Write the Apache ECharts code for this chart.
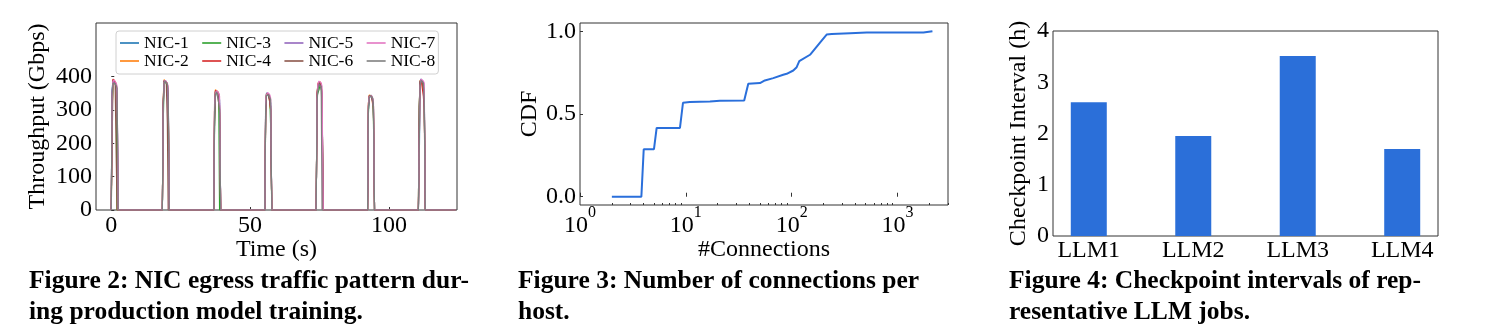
<!DOCTYPE html>
<html>
<head>
<meta charset="utf-8">
<script src="https://cdn.jsdelivr.net/npm/echarts@6/dist/echarts.min.js"></script>
<style>
html,body{margin:0;padding:0;background:#fff;}
#c{width:1485px;height:336px;}
</style>
</head>
<body>
<div id="c"></div>
<script>
// ---------- Figure 2 data: NIC egress throughput (Gbps) over time (s) ----------
const time = [
  0.0, 0.3, 0.6, 1.0, 1.4, 1.8, 2.1, 2.5,
  18.4, 18.7, 19.0, 19.4, 19.8, 20.2, 20.5, 20.9,
  36.9, 37.2, 37.5, 37.9, 38.3, 38.7, 39.0, 39.4,
  55.3, 55.6, 55.9, 56.3, 56.7, 57.1, 57.4, 57.8,
  73.8, 74.1, 74.4, 74.8, 75.2, 75.6, 75.9, 76.3,
  92.3, 92.6, 92.9, 93.3, 93.7, 94.1, 94.4, 94.8,
  110.6, 110.9, 111.2, 111.6, 112.0, 112.4, 112.7, 113.1,
  124.0
];
const nic1 = [0,360,388,386,382,378,340,0, 0,300,386,389,385,380,360,0, 0,280,355,358,352,348,330,0, 0,320,350,352,348,344,320,0, 0,340,370,378,382,365,350,0, 0,300,342,345,343,340,310,0, 0,130,385,392,388,370,360,0, 0];
const nic2 = [0,280,380,390,384,376,0,0, 0,330,390,388,384,378,340,0, 0,300,360,358,354,350,290,0, 0,310,348,350,346,342,300,0, 0,330,380,384,380,374,340,0, 0,320,344,346,342,338,300,0, 0,300,388,390,386,382,340,0, 0];
const nic3 = [0,300,372,386,380,360,0,0, 0,260,370,386,380,372,320,0, 0,250,340,356,352,344,0,0, 0,280,342,348,344,330,250,0, 0,340,350,360,376,370,300,0, 0,290,336,342,340,334,280,0, 0,310,380,388,384,376,330,0, 0];
const nic4 = [0,340,392,388,382,376,330,0, 0,310,384,388,384,378,330,0, 0,320,358,360,355,348,310,0, 0,290,345,350,347,342,300,0, 0,350,376,380,384,378,330,0, 0,310,340,344,341,336,320,0, 0,190,376,390,386,340,300,0, 0];
const nic5 = [0,350,385,382,378,370,350,0, 0,320,388,386,382,376,300,0, 0,300,352,356,350,345,320,0, 0,300,346,349,345,340,310,0, 0,330,372,380,378,370,345,0, 0,300,338,343,340,336,310,0, 0,300,384,392,388,384,330,0, 0];
const nic6 = [0,0,380,385,378,150,0,0, 0,320,386,389,384,260,0,0, 0,270,354,358,353,346,300,0, 0,300,347,351,346,341,310,0, 0,345,374,382,380,372,340,0, 0,315,342,345,342,337,315,0, 0,310,386,390,385,380,350,0, 0];
const nic7 = [0,320,384,390,386,380,370,0, 0,290,382,388,386,380,370,0, 0,310,350,357,354,350,340,0, 0,330,344,352,348,345,335,0, 0,330,378,386,384,380,370,0, 0,320,340,344,342,340,330,0, 0,200,370,392,390,386,380,0, 0];
const nic8 = [0,340,380,383,378,372,365,0, 0,300,380,386,383,378,350,0, 0,300,346,354,350,320,300,0, 0,310,343,348,345,340,330,0, 0,320,360,372,376,370,0,0, 0,310,335,342,340,336,320,0, 0,0,370,388,384,380,330,0, 0];
const nicNames = ['NIC-1','NIC-2','NIC-3','NIC-4','NIC-5','NIC-6','NIC-7','NIC-8'];
const nicValues = [nic1,nic2,nic3,nic4,nic5,nic6,nic7,nic8];
const nicColors = ['#1f77b4','#ff7f0e','#2ca02c','#d62728','#9467bd','#8c564b','#e377c2','#7f7f7f'];
const fig2YTicks = [0,100,200,300,400];
const fig2XTicks = [0,50,100];

// ---------- Figure 3 data: CDF of #connections per host ----------
const connections = [2, 3.8, 4, 5, 5.3, 8.8, 9.4, 10.9, 16.9, 21, 35.6, 38.9, 50.2, 55.8, 67, 83.2, 89.7, 103.6, 111.5, 118, 149, 192, 214, 239, 356, 512, 1057, 1758, 2138];
const cdf = [0, 0, 0.287, 0.287, 0.416, 0.416, 0.568, 0.572, 0.576, 0.58, 0.582, 0.683, 0.687, 0.703, 0.717, 0.737, 0.743, 0.763, 0.783, 0.819, 0.858, 0.944, 0.98, 0.984, 0.988, 0.992, 0.992, 0.992, 1.0];
const fig3XMajor = [1, 10, 100, 1000];
const fig3XMinor = [2,3,4,5,6,7,8,9,20,30,40,50,60,70,80,90,200,300,400,500,600,700,800,900,2000,3000];
const fig3YTicks = [0, 0.5, 1.0];

// ---------- Figure 4 data: checkpoint interval (h) ----------
const jobs = ['LLM1','LLM2','LLM3','LLM4'];
const checkpointHours = [2.61, 1.95, 3.51, 1.70];
const fig4YTicks = [0,1,2,3,4];

// ---------- Chart ----------
const FONT = 'Liberation Serif';
const chart = echarts.init(document.getElementById('c'), null, {renderer:'canvas'});
const axisText = {fontFamily: FONT, fontSize: 24, color: '#000'};
const tickStyle = {show:true, inside:true, length:3, lineStyle:{color:'#333', width:1}};
const border = {show:true, borderColor:'#333', borderWidth:1, backgroundColor:'transparent'};
const capStyle = {fontFamily: FONT, fontWeight: 'bold', fontSize: 25.5, lineHeight: 31, color: '#000'};

const series = [];
nicNames.forEach((n, k) => {
  series.push({
    name: n, type: 'line', xAxisIndex: 0, yAxisIndex: 0,
    data: time.map((t, i) => [t, nicValues[k][i]]),
    showSymbol: false, symbol: 'none',
    lineStyle: {width: 1.2, color: nicColors[k]},
    itemStyle: {color: nicColors[k]},
    clip: true, animation: false
  });
});
series.push({
  type: 'line', xAxisIndex: 1, yAxisIndex: 1,
  data: connections.map((c, i) => [c, cdf[i]]),
  showSymbol: false, symbol: 'none',
  lineStyle: {width: 2, color: '#2a6fdb'}, animation: false
});
series.push({
  type: 'bar', xAxisIndex: 3, yAxisIndex: 2,
  data: checkpointHours.map((v, i) => [i, v]),
  barWidth: 36, itemStyle: {color: '#2b6fd9'}, animation: false
});

const legendCommon = {
  orient: 'horizontal', icon: 'rect', itemWidth: 19, itemHeight: 1.6,
  itemGap: 13.5, selectedMode: false,
  textStyle: {fontFamily: FONT, fontSize: 17.5, color: '#000', padding: [0,0,0,0]}
};

const option = {
  animation: false,
  backgroundColor: '#fff',
  title: [
    {text: 'Figure 2: NIC egress traffic pattern dur-\ning production model training.', left: 29, top: 266, padding: 0, textStyle: capStyle},
    {text: 'Figure 3: Number of connections per\nhost.', left: 518, top: 266, padding: 0, textStyle: capStyle},
    {text: 'Figure 4: Checkpoint intervals of rep-\nresentative LLM jobs.', left: 1009, top: 266, padding: 0, textStyle: capStyle}
  ],
  legend: [
    Object.assign({}, legendCommon, {
      data: ['NIC-1','NIC-3','NIC-5','NIC-7'], left: 116, top: 31,
      padding: [3, 3, 22, 4], borderColor: '#d0d0d0', borderWidth: 1, borderRadius: 3,
      backgroundColor: 'rgba(255,255,255,0.8)'
    }),
    Object.assign({}, legendCommon, {
      data: ['NIC-2','NIC-4','NIC-6','NIC-8'], left: 120, top: 52, padding: 0, z: 10
    })
  ],
  grid: [
    Object.assign({left: 96, top: 23, width: 361, height: 187}, border),
    Object.assign({left: 580, top: 23, width: 368, height: 182}, border),
    Object.assign({left: 1053, top: 31, width: 385, height: 205}, border)
  ],
  xAxis: [
    {type: 'value', gridIndex: 0, min: -5.5, max: 124.5, position: 'bottom',
     name: 'Time (s)', nameLocation: 'middle', nameGap: 28, nameMoveOverlap: false, nameTextStyle: axisText,
     axisLine: {show: false}, splitLine: {show: false},
     axisTick: Object.assign({}, tickStyle, {customValues: fig2XTicks}),
     axisLabel: Object.assign({}, axisText, {customValues: fig2XTicks, margin: 4})},
    {type: 'log', logBase: 10, gridIndex: 1, min: 1, max: 3000, position: 'bottom',
     name: '#Connections', nameLocation: 'middle', nameGap: 33, nameMoveOverlap: false, nameTextStyle: axisText,
     axisLine: {show: false}, splitLine: {show: false}, minorTick: {show: false},
     axisTick: Object.assign({}, tickStyle, {length: 4, customValues: fig3XMajor}),
     axisLabel: {customValues: fig3XMajor, margin: 0,
       formatter: v => '{b|10}{s|' + Math.round(Math.log10(v)) + '}',
       rich: {
         b: {fontFamily: FONT, fontSize: 24, color: '#000', padding: [9,0,0,0], verticalAlign: 'bottom'},
         s: {fontFamily: FONT, fontSize: 16, color: '#000', verticalAlign: 'top'}
       }}},
    {type: 'log', logBase: 10, gridIndex: 1, min: 1, max: 3000, position: 'bottom',
     axisLine: {show: false}, splitLine: {show: false},
     axisTick: Object.assign({}, tickStyle, {length: 2, customValues: fig3XMinor}),
     axisLabel: {show: false}},
    {type: 'value', gridIndex: 2, min: -0.3425, max: 3.3425, position: 'bottom',
     axisLine: {show: false}, splitLine: {show: false}, axisTick: {show: false},
     axisLabel: Object.assign({}, axisText, {customValues: [0,1,2,3], margin: 3,
       formatter: v => jobs[Math.round(v)]})}
  ],
  yAxis: [
    {type: 'value', gridIndex: 0, min: 0, max: 560,
     name: 'Throughput (Gbps)', nameLocation: 'middle', nameGap: 46, nameTextStyle: axisText,
     axisLine: {show: false}, splitLine: {show: false},
     axisTick: Object.assign({}, tickStyle, {customValues: fig2YTicks}),
     axisLabel: Object.assign({}, axisText, {customValues: fig2YTicks, margin: 4})},
    {type: 'value', gridIndex: 1, min: -0.05, max: 1.05,
     name: 'CDF', nameLocation: 'middle', nameGap: 38, nameTextStyle: axisText,
     axisLine: {show: false}, splitLine: {show: false},
     axisTick: Object.assign({}, tickStyle, {customValues: fig3YTicks}),
     axisLabel: Object.assign({}, axisText, {customValues: fig3YTicks, margin: 4,
       formatter: v => v.toFixed(1)})},
    {type: 'value', gridIndex: 2, min: 0, max: 4,
     name: 'Checkpoint Interval (h)', nameLocation: 'middle', nameGap: 22, nameTextStyle: axisText,
     axisLine: {show: false}, splitLine: {show: false}, axisTick: {show: false},
     axisLabel: Object.assign({}, axisText, {customValues: fig4YTicks, margin: 4})}
  ],
  series: series
};
chart.setOption(option);
</script>
</body>
</html>
